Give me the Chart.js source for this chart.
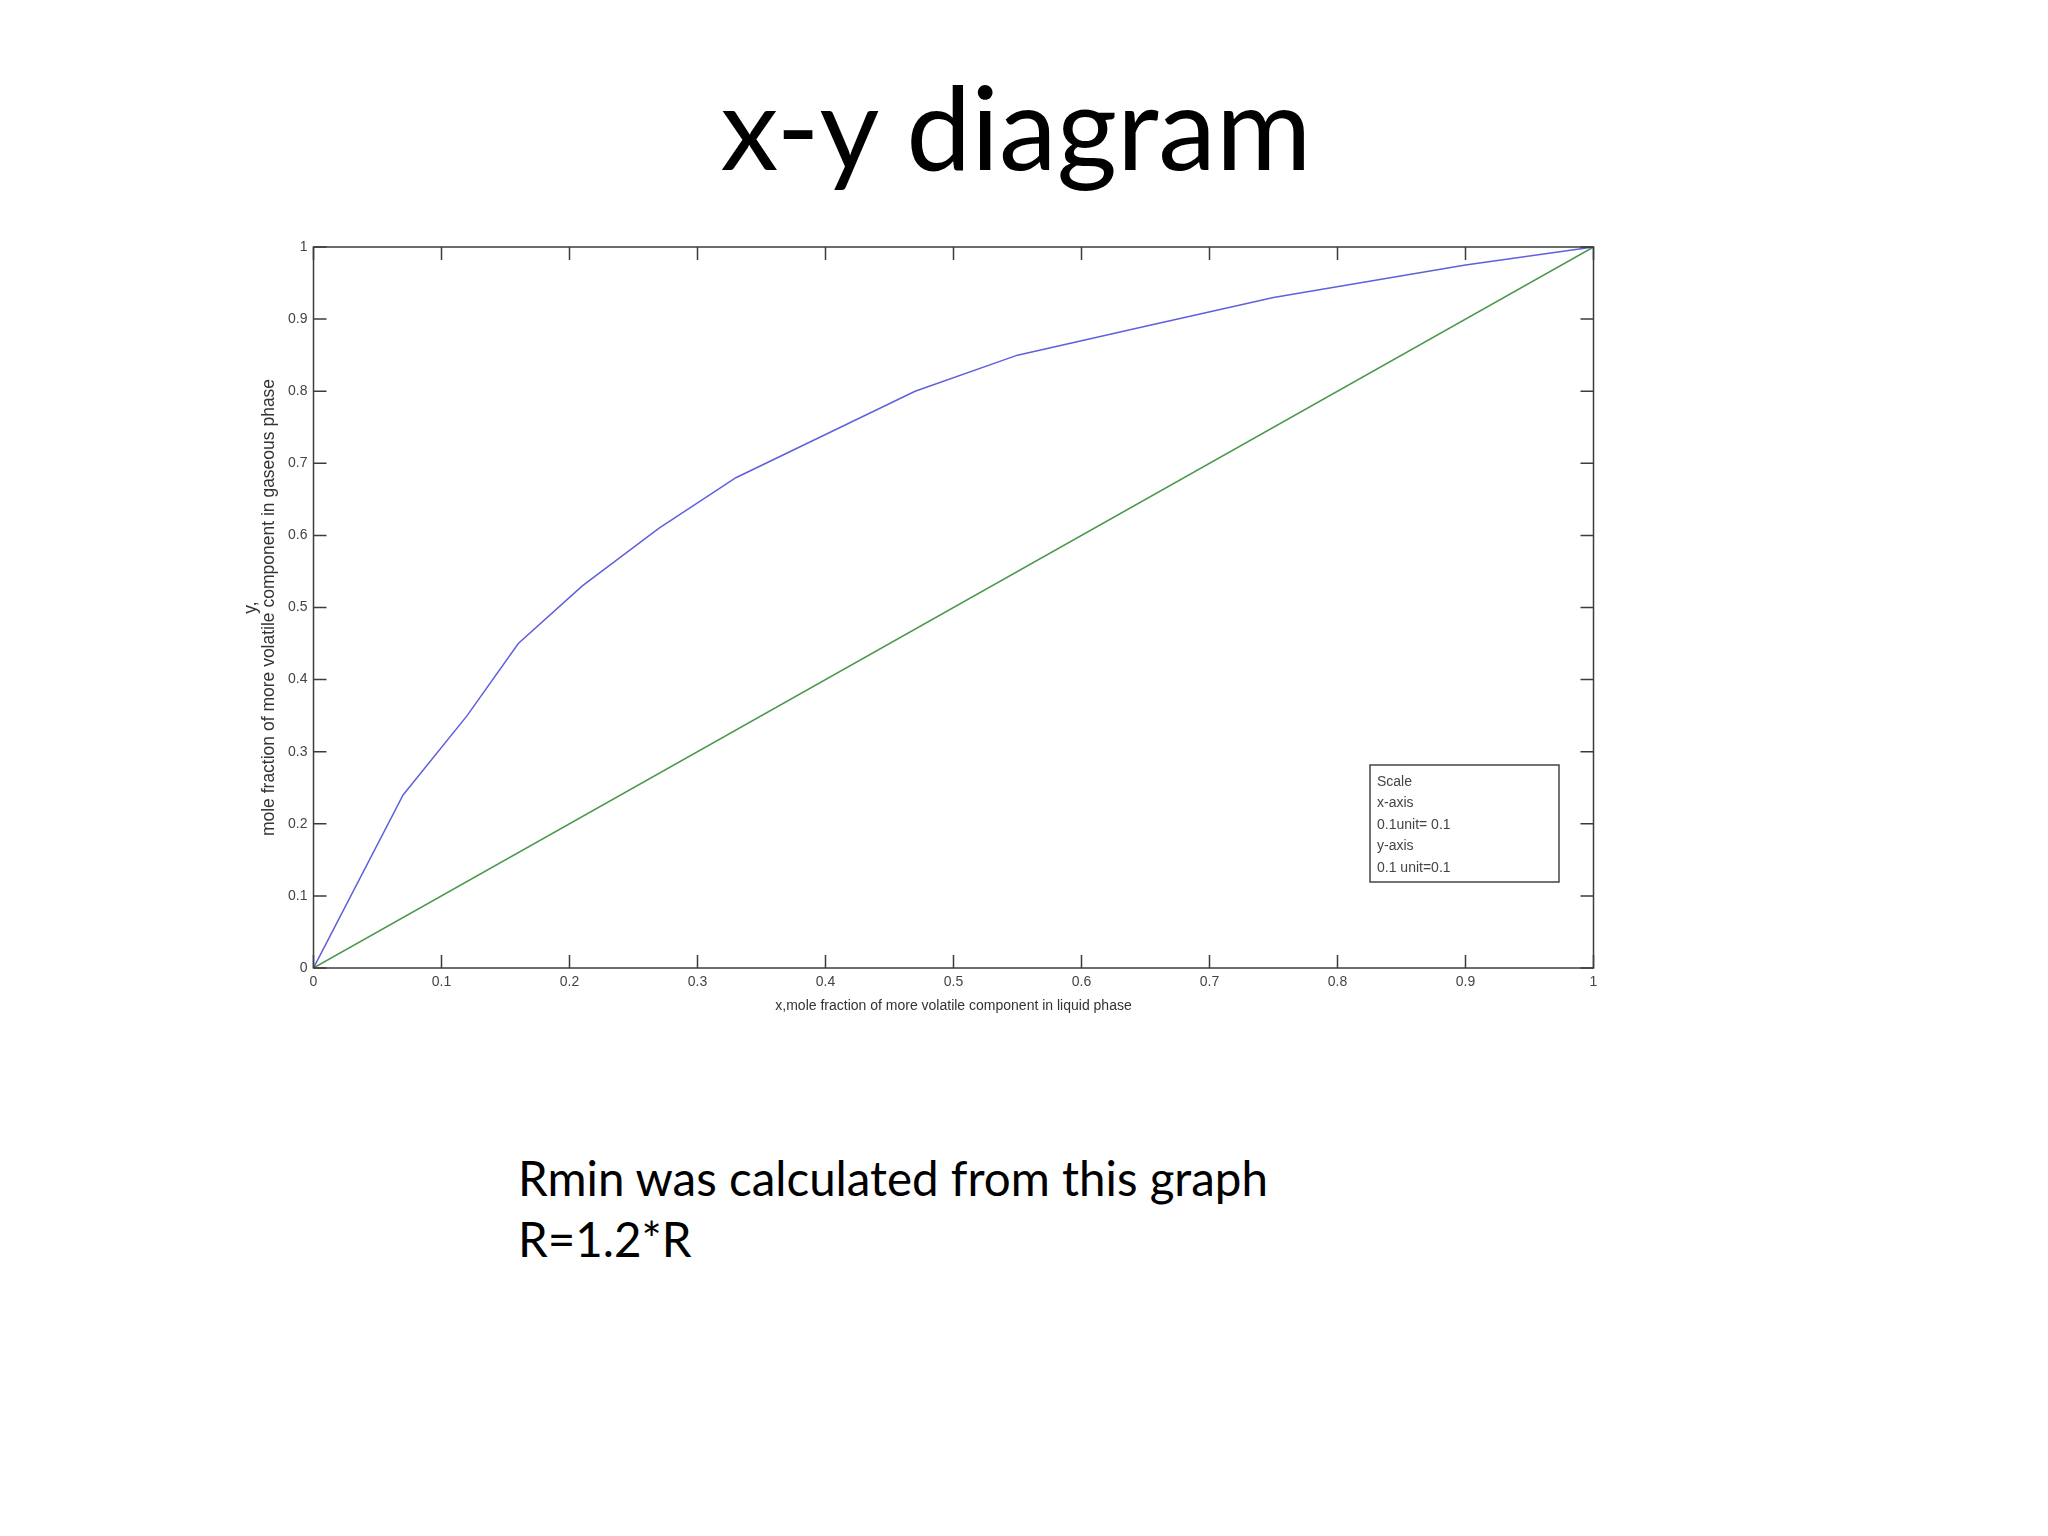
<!DOCTYPE html>
<html>
<head>
<meta charset="utf-8">
<title>x-y diagram</title>
<script src="https://cdn.jsdelivr.net/npm/chart.js@4.4.0/dist/chart.umd.min.js"></script>
<style>
	html, body { margin: 0; padding: 0; background: #fff; }
	body { width: 2048px; height: 1536px; position: relative; overflow: hidden; }
	#title { position: absolute; left: 0; top: 68px; width: 2032px; text-align: center;
		font-family: Lato, "Open Sans", sans-serif; font-size: 116px; line-height: 1; color: #000; }
	#note { position: absolute; left: 518px; top: 1147px;
		font-family: Lato, "Open Sans", sans-serif; font-size: 47.5px; line-height: 61px; color: #000; }
	#wrap { position: absolute; left: 230px; top: 200px; width: 1410px; height: 840px; }
</style>
</head>
<body>
<div id="title">x-y diagram</div>
<div id="wrap"><canvas id="myChart" width="1410" height="840"></canvas></div>
<div id="note">Rmin was calculated from this graph<br>R=1.2*R</div>

<script>
	// --- data ---
	var xLiquid = [0, 0.07, 0.12, 0.16, 0.21, 0.27, 0.33, 0.40, 0.47, 0.55, 0.65, 0.75, 0.90, 1];
	var yVapour = [0, 0.24, 0.35, 0.45, 0.53, 0.61, 0.68, 0.74, 0.80, 0.85, 0.89, 0.93, 0.975, 1];
	var diagX = [0, 1];
	var diagY = [0, 1];
	var tickLabels = ['0', '0.1', '0.2', '0.3', '0.4', '0.5', '0.6', '0.7', '0.8', '0.9', '1'];
	var xTitle = 'x,mole fraction of more volatile component in liquid phase';
	var yTitle = ['y,', 'mole fraction of more volatile component in gaseous phase'];
	var noteLines = ['Scale', 'x-axis', '0.1unit= 0.1', 'y-axis', '0.1 unit=0.1'];

	var pairs = function (xs, ys) {
		return xs.map((v, i) => ({ x: v, y: ys[i] }));
	};

	var axisFont = { family: 'Liberation Sans, Arial, sans-serif', size: 14 };

	// box round the plot, inward ticks on all four sides, scale note
	var frame = {
		id: 'frame',
		afterDraw(chart) {
			var ctx = chart.ctx;
			var a = chart.chartArea;
			var x = chart.scales.x, y = chart.scales.y;
			ctx.save();
			ctx.strokeStyle = '#3c3c3c';
			ctx.lineWidth = 1.5;
			ctx.strokeRect(a.left, a.top, a.right - a.left, a.bottom - a.top);
			ctx.beginPath();
			x.ticks.forEach(t => {
				var px = x.getPixelForValue(t.value);
				ctx.moveTo(px, a.bottom); ctx.lineTo(px, a.bottom - 13);
				ctx.moveTo(px, a.top); ctx.lineTo(px, a.top + 13);
			});
			y.ticks.forEach(t => {
				var py = y.getPixelForValue(t.value);
				ctx.moveTo(a.left, py); ctx.lineTo(a.left + 13, py);
				ctx.moveTo(a.right, py); ctx.lineTo(a.right - 13, py);
			});
			ctx.stroke();

			// scale note
			var bx = a.right - 223.5, by = a.bottom - 203;
			ctx.lineWidth = 1.5;
			ctx.strokeStyle = '#444';
			ctx.strokeRect(bx, by, 189, 117);
			ctx.fillStyle = '#444';
			ctx.font = '14px Liberation Sans, Arial, sans-serif';
			ctx.textBaseline = 'middle';
			noteLines.forEach((s, i) => {
				ctx.fillText(s, bx + 7, by + 17 + i * 21.5);
			});
			ctx.restore();
		}
	};

	var config = {
		type: 'scatter',
		data: {
			datasets: [{
				label: 'equilibrium',
				data: pairs(xLiquid, yVapour),
				showLine: true,
				borderColor: '#6060dc',
				borderWidth: 1.5,
				pointRadius: 0,
				tension: 0
			}, {
				label: 'x = y',
				data: pairs(diagX, diagY),
				showLine: true,
				borderColor: '#4a984a',
				borderWidth: 1.5,
				pointRadius: 0,
				tension: 0
			}]
		},
		options: {
			responsive: false,
			animation: false,
			devicePixelRatio: 1,
			layout: { padding: { left: 0, right: 46.5, top: 47, bottom: 25 } },
			plugins: {
				legend: { display: false },
				tooltip: { enabled: false }
			},
			scales: {
				x: {
					type: 'linear', min: 0, max: 1,
					grid: { display: false, drawTicks: false },
					border: { display: false },
					ticks: {
						stepSize: 0.1, autoSkip: false, maxRotation: 0,
						color: '#444', font: axisFont, padding: 6,
						callback: (v, i) => tickLabels[i]
					},
					title: { display: true, text: xTitle, color: '#333', font: axisFont, padding: { top: 3, bottom: 0 } },
					afterFit: s => { s.height = 47; }
				},
				y: {
					type: 'linear', min: 0, max: 1,
					grid: { display: false, drawTicks: false },
					border: { display: false },
					ticks: {
						stepSize: 0.1, autoSkip: false,
						color: '#444', font: axisFont, padding: 6,
						callback: (v, i) => tickLabels[i]
					},
					title: { display: true, text: yTitle, color: '#333',
						font: { family: 'Liberation Sans, Arial, sans-serif', size: 17.5, lineHeight: 1.05 },
						padding: { top: 12, bottom: 0 } },
					afterFit: s => { s.width = 83.5; }
				}
			}
		},
		plugins: [frame]
	};

	var myChart = new Chart(document.getElementById('myChart'), config);
</script>
</body>
</html>
